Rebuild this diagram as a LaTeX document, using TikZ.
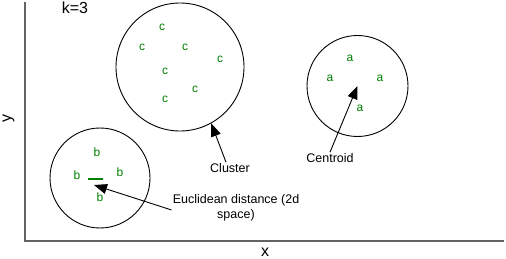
\documentclass[tikz,border=0pt]{standalone}
\usepackage{fontspec}
\setmainfont{Liberation Sans}
\usetikzlibrary{arrows.meta}
\definecolor{ptgreen}{RGB}{0,128,0}
\definecolor{axisgray}{RGB}{100,100,100}
\begin{document}
\begin{tikzpicture}[x=1pt,y=-1pt,
  clus/.style={draw=black,line width=0.9pt,circle,inner sep=0pt},
  pt/.style={text=ptgreen,font=\fontsize{12}{13}\selectfont,inner sep=0pt},
  lbl/.style={font=\fontsize{12.5}{15}\selectfont,inner sep=1pt},
  axlbl/.style={font=\fontsize{16}{18}\selectfont,inner sep=0pt},
  axis/.style={draw=axisgray,line width=1.4pt},
  arr/.style={draw=black,line width=0.9pt,-{Triangle[length=13pt,width=10pt]}}]
\useasboundingbox (0,0) rectangle (506,259);
% axes
\coordinate (O) at (25,241);
\coordinate (Ytop) at (25,2);
\coordinate (Xend) at (504,241);
\draw[axis] (Ytop) -- (O) -- (Xend);
\node[axlbl] (klbl) at (75,8) {k=3};
\node[axlbl,rotate=90] (ylbl) at (8.5,119) {y};
\node[axlbl] (xlbl) at (265,252) {x};
% clusters
\node[clus,minimum size=128pt] (C) at (180,67) {};
\node[clus,minimum size=101pt] (A) at (357.5,86) {};
\node[clus,minimum size=100pt] (B) at (100,178) {};
% points c
\node[pt] (c1) at (162,27) {c};
\node[pt] (c2) at (142,47) {c};
\node[pt] (c3) at (185,47) {c};
\node[pt] (c4) at (220,59) {c};
\node[pt] (c5) at (165,71) {c};
\node[pt] (c6) at (195,89) {c};
\node[pt] (c7) at (165,99) {c};
% points a
\node[pt] (a1) at (350,58) {a};
\node[pt] (a2) at (330,78) {a};
\node[pt] (a3) at (380,78) {a};
\node[pt] (a4) at (360,108) {a};
% points b
\node[pt] (b1) at (97,152) {b};
\node[pt] (b2) at (77,175) {b};
\node[pt] (b3) at (120,172) {b};
\node[pt] (b4) at (100,197) {b};
\coordinate (d1) at (88,179);
\coordinate (d2) at (103,179);
\draw[ptgreen,line width=2pt] (d1) -- (d2);
\coordinate (dtip) at (94,185);
% labels
\node[lbl] (cl) at (230,168) {Cluster};
\node[lbl] (ce) at (330,158) {Centroid};
\node[lbl,align=center] (eu) at (236,208) {Euclidean distance (2d\\space)};
% arrows
\draw[arr] (cl.north) ++(-4,0) -- (C.-61);
\draw[arr] (ce.north) -- (A.center);
\draw[arr] (eu.west) ++(0,2) -- (dtip);
\end{tikzpicture}
\end{document}
